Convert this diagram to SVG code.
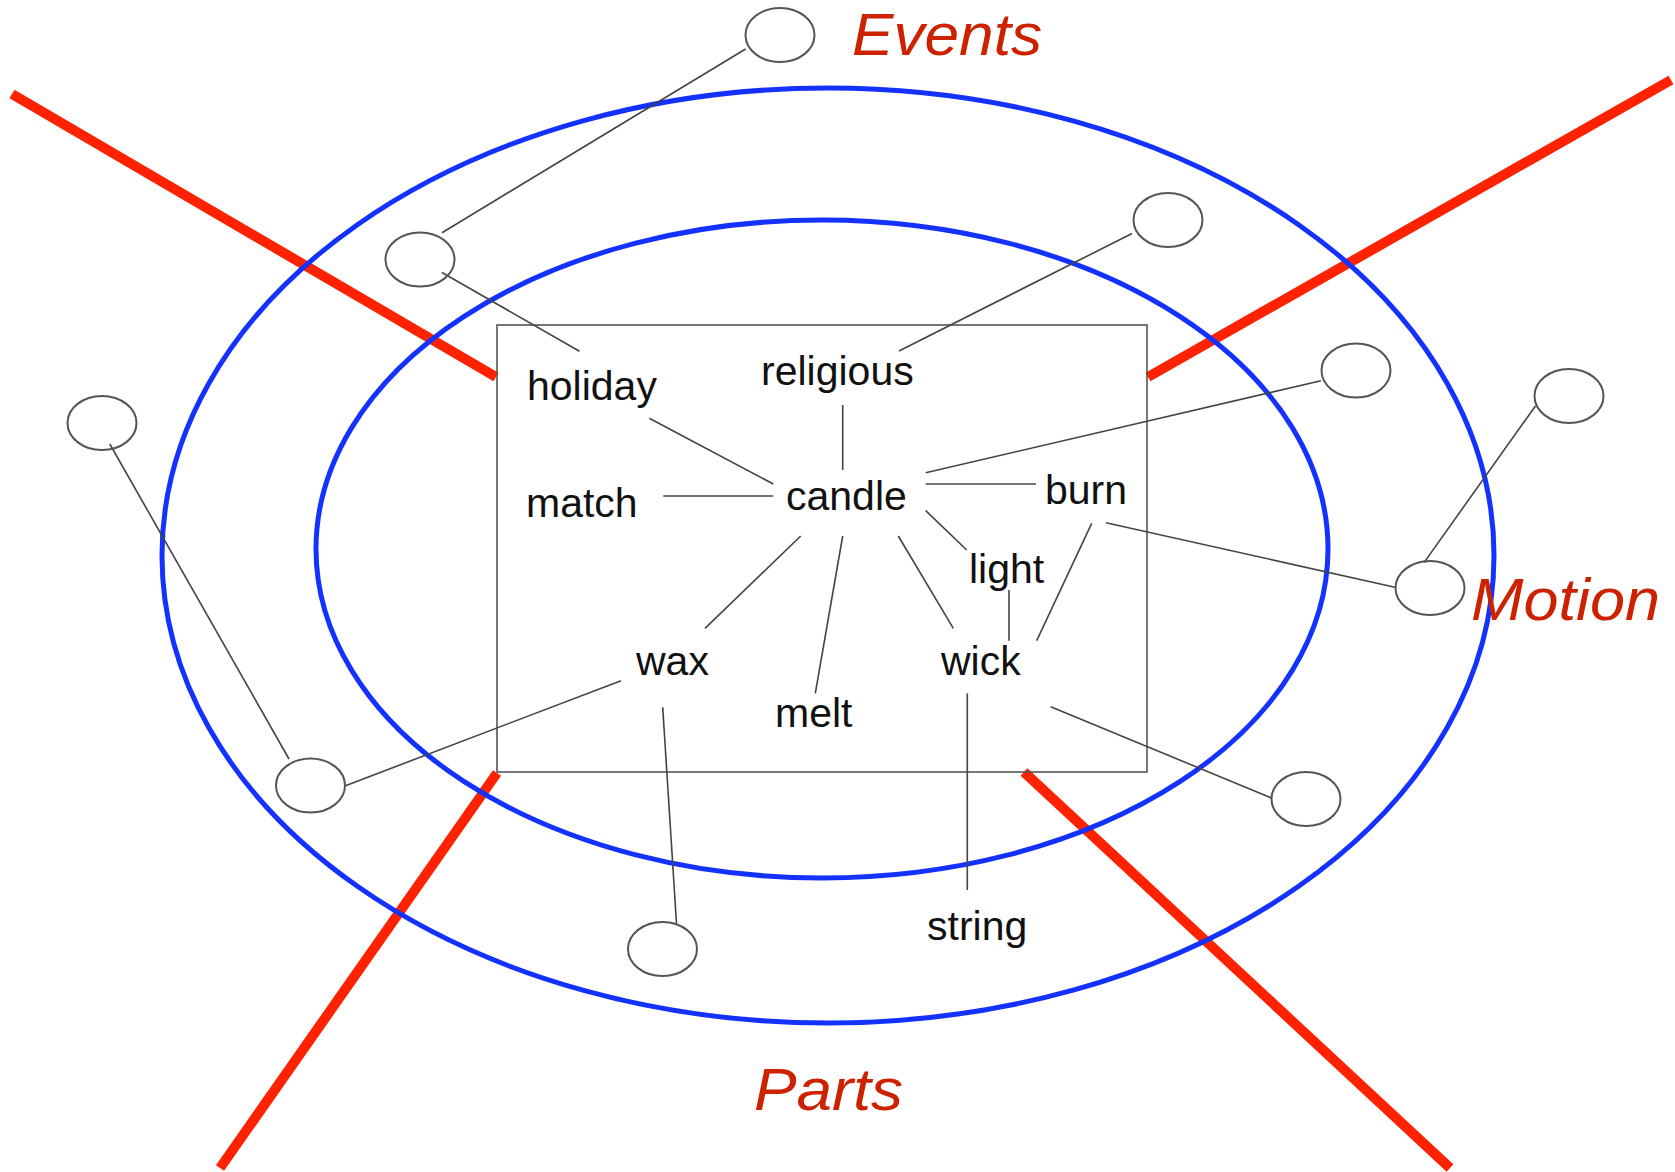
<svg xmlns="http://www.w3.org/2000/svg" width="1675" height="1172" viewBox="0 0 1675 1172">
<style>
.red{stroke:#ff2200;stroke-width:10;fill:none}
.blue{stroke:#1432ff;stroke-width:5;fill:none}
.box{stroke:#555;stroke-width:1.6;fill:none}
.c{stroke:#555;stroke-width:2;fill:none}
.ln{stroke:#444;stroke-width:1.6;fill:none}
.t{font-family:"Liberation Sans",Arial,sans-serif;font-size:41px;fill:#111}
.h{font-family:"Liberation Sans",Arial,sans-serif;font-size:60px;font-style:italic;fill:#cc2200}
</style>
<rect width="1675" height="1172" fill="#fff"/>
<g id="dividers">
<line class="red" x1="12" y1="94" x2="496" y2="377"/>
<line class="red" x1="1148" y1="377" x2="1671" y2="80"/>
<line class="red" x1="497" y1="773" x2="220" y2="1168"/>
<line class="red" x1="1024" y1="772" x2="1450" y2="1168"/>
</g>
<g id="rings">
<ellipse class="blue" cx="828" cy="555.5" rx="666" ry="467.5"/>
<ellipse class="blue" cx="822" cy="549" rx="506" ry="329"/>
</g>
<rect id="core" class="box" x="497" y="325" width="650" height="447"/>
<g id="connectors">
<line class="ln" x1="745.6" y1="49" x2="442" y2="232.7"/>
<line class="ln" x1="442" y1="272.5" x2="579.5" y2="351.3"/>
<line class="ln" x1="649.3" y1="418.3" x2="773.3" y2="484"/>
<line class="ln" x1="663.3" y1="496" x2="773.3" y2="496"/>
<line class="ln" x1="800.7" y1="536" x2="705" y2="628.3"/>
<line class="ln" x1="842.7" y1="536" x2="815.3" y2="693.3"/>
<line class="ln" x1="842.7" y1="405" x2="842.7" y2="470"/>
<line class="ln" x1="899" y1="351" x2="1132" y2="233.5"/>
<line class="ln" x1="925.7" y1="472.7" x2="1321" y2="380.8"/>
<line class="ln" x1="925.7" y1="484" x2="1036" y2="484"/>
<line class="ln" x1="925.7" y1="510.7" x2="966.7" y2="550"/>
<line class="ln" x1="898.3" y1="536" x2="953.3" y2="628.3"/>
<line class="ln" x1="1009" y1="590" x2="1009" y2="640.7"/>
<line class="ln" x1="1091.7" y1="523.3" x2="1036.7" y2="640.7"/>
<line class="ln" x1="1106" y1="522.7" x2="1396" y2="587.5"/>
<line class="ln" x1="1424" y1="562.6" x2="1535.6" y2="405.7"/>
<line class="ln" x1="967.3" y1="693.3" x2="967.3" y2="890"/>
<line class="ln" x1="1050.7" y1="706.7" x2="1271.5" y2="798"/>
<line class="ln" x1="621" y1="680.7" x2="345.5" y2="785.7"/>
<line class="ln" x1="662.7" y1="707.3" x2="676.5" y2="923.5"/>
<line class="ln" x1="109.8" y1="444" x2="289" y2="759"/>
</g>
<g id="n-c1"><ellipse class="c" cx="780" cy="35" rx="34.5" ry="27"/></g>
<g id="n-c2"><ellipse class="c" cx="420" cy="259.5" rx="34.5" ry="27"/></g>
<g id="n-c3"><ellipse class="c" cx="102" cy="423" rx="34.5" ry="27"/></g>
<g id="n-c4"><ellipse class="c" cx="1168" cy="220" rx="34.5" ry="27"/></g>
<g id="n-c5"><ellipse class="c" cx="1356" cy="370.5" rx="34.5" ry="27"/></g>
<g id="n-c6"><ellipse class="c" cx="1569" cy="396" rx="34.5" ry="27"/></g>
<g id="n-c7"><ellipse class="c" cx="1430" cy="588" rx="34.5" ry="27"/></g>
<g id="n-c8"><ellipse class="c" cx="310.5" cy="785.5" rx="34.5" ry="27"/></g>
<g id="n-c9"><ellipse class="c" cx="662.5" cy="949" rx="34.5" ry="27"/></g>
<g id="n-c10"><ellipse class="c" cx="1306" cy="799" rx="34.5" ry="27"/></g>
<g id="n-holiday"><text class="t" x="527" y="400">holiday</text></g>
<g id="n-religious"><text class="t" x="761" y="385">religious</text></g>
<g id="n-match"><text class="t" x="526" y="517">match</text></g>
<g id="n-candle"><text class="t" x="786" y="510">candle</text></g>
<g id="n-burn"><text class="t" x="1045" y="504">burn</text></g>
<g id="n-light"><text class="t" x="969" y="583">light</text></g>
<g id="n-wax"><text class="t" x="636" y="675">wax</text></g>
<g id="n-wick"><text class="t" x="941" y="675">wick</text></g>
<g id="n-melt"><text class="t" x="775" y="727">melt</text></g>
<g id="n-string"><text class="t" x="927" y="940">string</text></g>
<g id="l-events"><text class="h" x="852" y="55" textLength="190" lengthAdjust="spacingAndGlyphs">Events</text></g>
<g id="l-motion"><text class="h" x="1471" y="620" textLength="189" lengthAdjust="spacingAndGlyphs">Motion</text></g>
<g id="l-parts"><text class="h" x="754" y="1110" textLength="149" lengthAdjust="spacingAndGlyphs">Parts</text></g>
</svg>
